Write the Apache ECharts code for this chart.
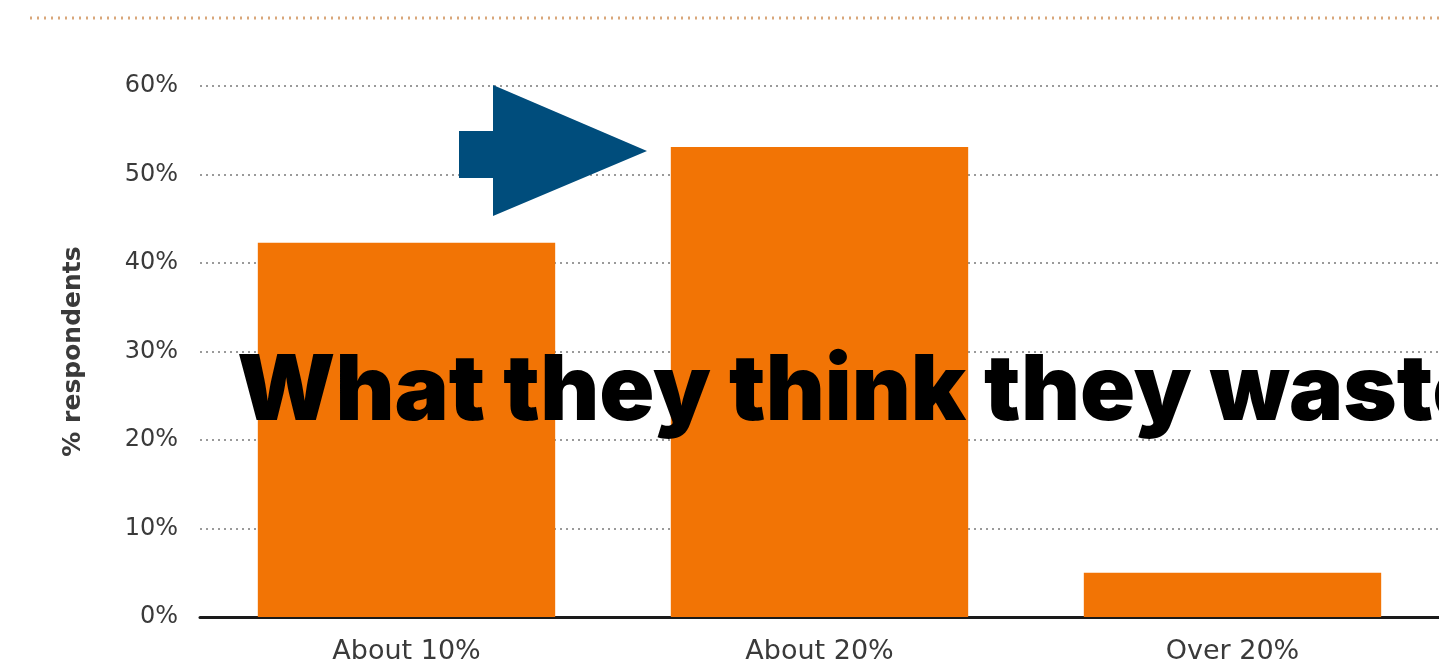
<!DOCTYPE html>
<html><head><meta charset="utf-8">
<script src="https://cdn.jsdelivr.net/npm/echarts@6/dist/echarts.min.js"></script>
<style>html,body{margin:0;padding:0;background:#fff}#c{width:1439px;height:671px}</style>
</head><body><div id="c"></div>
<script>
const categories = ["About 10%", "About 20%", "Over 20%"];
const values = [42.3, 53.1, 5.0];
const yTicks = [0, 10, 20, 30, 40, 50, 60];
const overlayText = "What they think they waste";
const yAxisName = "% respondents";

const chart = echarts.init(document.getElementById('c'));
chart.setOption({
  animation: false,
  backgroundColor: '#ffffff',
  grid: { left: 200, right: 0, top: 86, bottom: 54, containLabel: false },
  xAxis: {
    type: 'category', data: categories,
    axisLine: { show: true, lineStyle: { color: '#1a1a1a', width: 3 } },
    axisTick: { show: false },
    axisLabel: { color: '#3a3a3a', fontSize: 27, fontFamily: 'DejaVu Sans', margin: 21 }
  },
  yAxis: {
    type: 'value', min: yTicks[0], max: yTicks[yTicks.length - 1], interval: 10,
    name: yAxisName, nameLocation: 'middle', nameGap: 114, nameRotate: 90,
    nameTextStyle: { color: '#3a3a3a', fontSize: 25, fontWeight: 'bold', fontFamily: 'DejaVu Sans' },
    axisLine: { show: false }, axisTick: { show: false },
    axisLabel: { color: '#3a3a3a', fontSize: 24, fontFamily: 'DejaVu Sans', margin: 22,
      formatter: v => v + '%' },
    splitLine: { show: true, lineStyle: { color: '#9a9a9a', type: [2, 4], width: 2 } }
  },
  series: [{
    type: 'bar', data: values, barWidth: '72%',
    itemStyle: { color: '#F27405' }, z: 2
  }],
  graphic: [
    { type: 'line', shape: { x1: 30, y1: 18, x2: 1439, y2: 18 },
      style: { stroke: '#D9A77A', lineWidth: 3, lineDash: [2, 5] }, z: 1 },
    { type: 'polygon', shape: { points: [[459,131],[493,131],[493,85],[647,151],[493,216],[493,178],[459,178]] },
      style: { fill: '#004D7C' }, z: 10 },
    { type: 'text', left: 237, top: 347,
      style: { text: overlayText, fill: '#000000', fontSize: 91, fontWeight: 900,
        fontFamily: 'Inter, Lato, sans-serif' }, z: 20 }
  ]
});
</script></body></html>
